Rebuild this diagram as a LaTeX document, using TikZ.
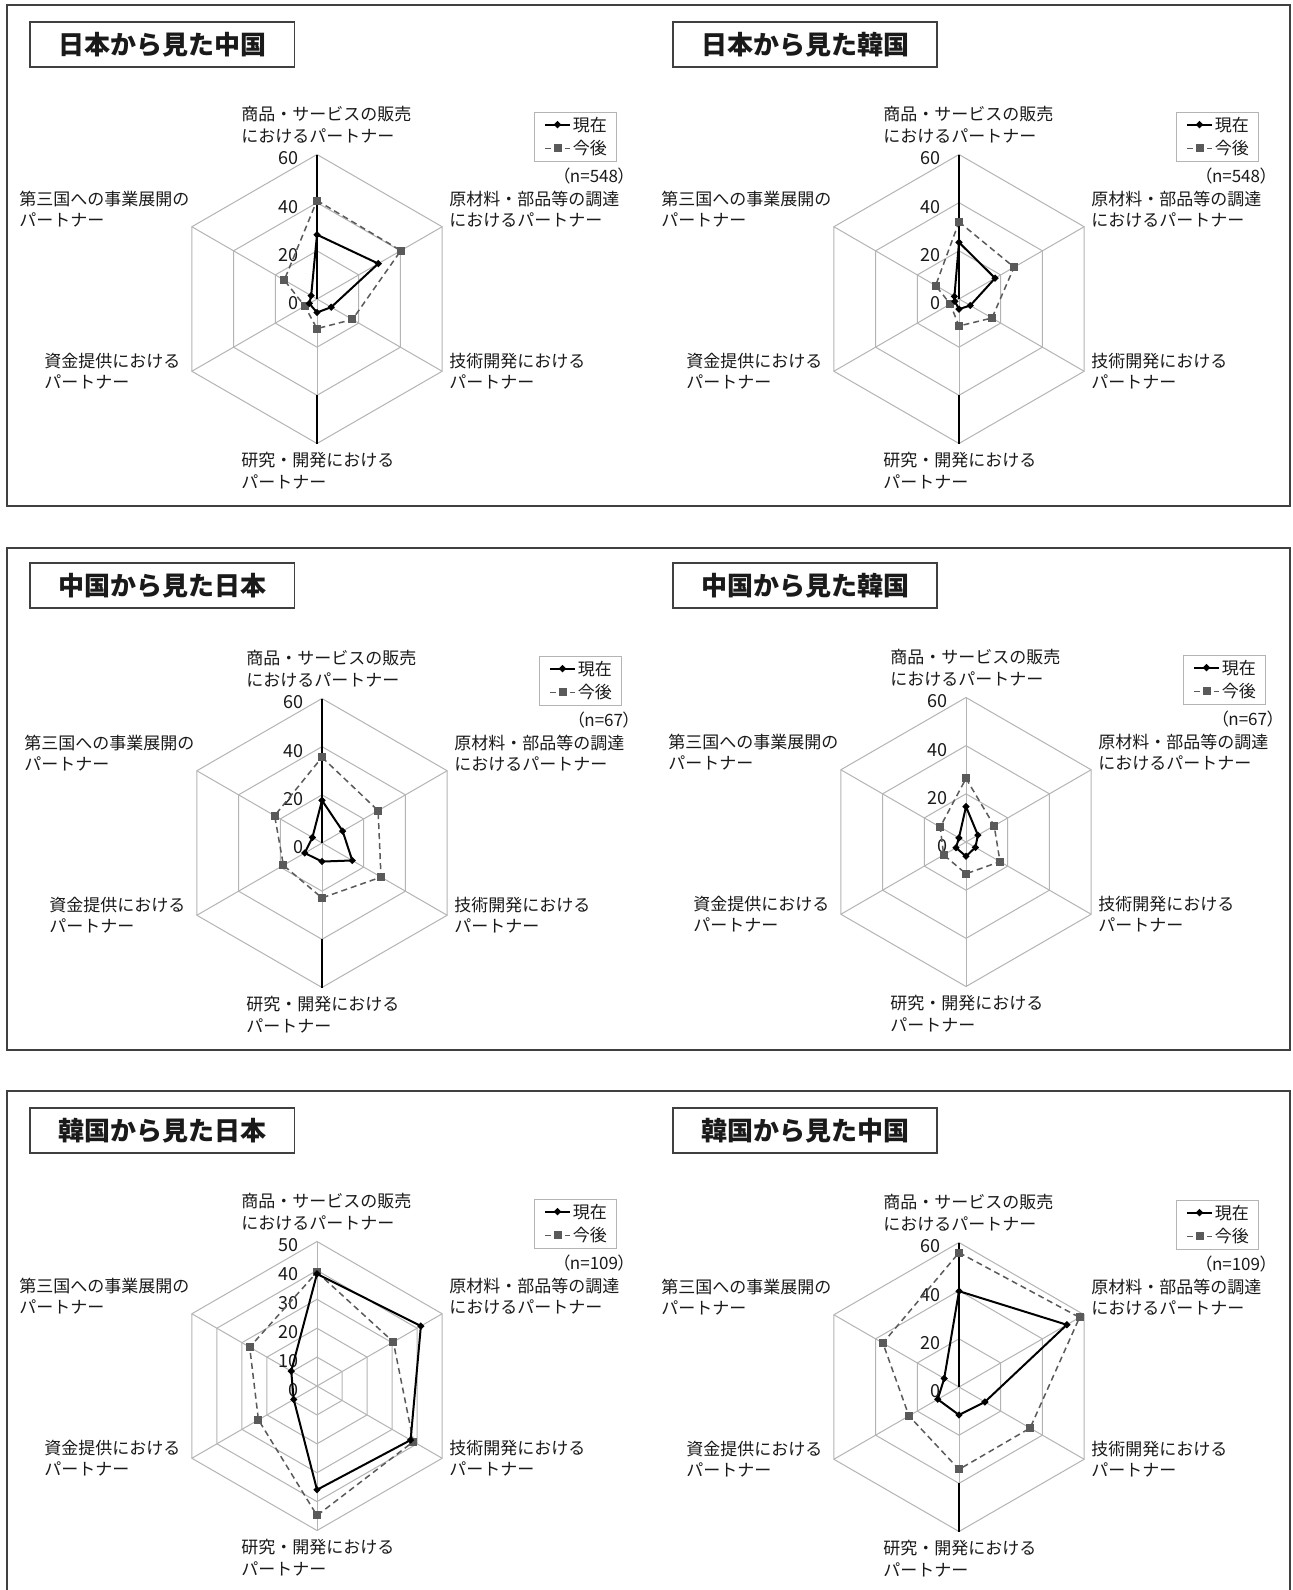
\documentclass[tikz,border=0pt]{standalone}
\usepackage{fontspec}
\setmainfont{Noto Sans CJK JP}
\newfontfamily\jpprop[RawFeature=+palt]{Noto Sans CJK JP}
\usetikzlibrary{calc}
\definecolor{gridgray}{HTML}{B4B4B4}
\definecolor{futgray}{HTML}{5A5A5A}
\definecolor{framegray}{HTML}{404040}
\definecolor{textblack}{HTML}{1A1A1A}
\tikzset{
  gridline/.style={draw=gridgray, line width=0.5pt},
  axisline/.style={draw=black, line width=0.6pt},
  curline/.style={draw=black, line width=1pt, line join=round},
  futline/.style={draw=futgray, line width=0.75pt, dash pattern=on 3pt off 2pt},
  curmark/.style={fill=black, draw=none, rectangle, rotate=45, minimum size=2.6pt, inner sep=0pt},
  futmark/.style={fill=futgray, draw=none, rectangle, minimum size=4pt, inner sep=0pt},
  lab/.style={anchor=base west, inner sep=0pt, text=textblack, font=\fontsize{8.5pt}{10pt}\selectfont},
  ticklab/.style={anchor=east, inner sep=0pt, text=textblack, font=\fontsize{9pt}{10pt}\selectfont},
  legbox/.style={draw=gridgray, line width=0.5pt},
  panelframe/.style={draw=framegray, line width=0.8pt},
  titleframe/.style={draw=framegray, line width=0.75pt},
  titletext/.style={inner sep=0pt, text=textblack, font=\fontsize{13pt}{15pt}\selectfont\bfseries}
}
\newcommand{\radarchart}[9]{%
\begin{scope}[shift={(#2,#3)}]
  \foreach \k in {1,...,#5}{
    \pgfmathsetmacro\rr{144.5*\k/#5}
    \draw[gridline] (0,-\rr) \foreach \ang in {30,-30,-90,-150,150}{ -- ({\rr*cos(\ang)},{-\rr*sin(\ang)}) } -- cycle;
  }
  \foreach \ang in {90,30,-30,-90,-150,150}
    \draw[gridline] (0,0) -- ({144.5*cos(\ang)},{-144.5*sin(\ang)});
  \ifnum#9=1
    \draw[axisline] (0,0) -- (0,-144.5);
    \draw[axisline] (0,96.3) -- (0,144.5);
  \fi
  \foreach \k in {0,...,#5}{
    \pgfmathtruncatemacro\val{#4*\k/#5}
    \pgfmathsetmacro\yy{-144.5*\k/#5+4}
    \node[ticklab] (#1t\k) at (-18,\yy) {\val};
  }
  \foreach \v [count=\i] in {#6}{
    \pgfmathsetmacro\ang{150-60*\i}
    \pgfmathsetmacro\rr{144.5*\v/#4}
    \coordinate (#1c\i) at ({\rr*cos(\ang)},{-\rr*sin(\ang)});
  }
  \foreach \v [count=\i] in {#7}{
    \pgfmathsetmacro\ang{150-60*\i}
    \pgfmathsetmacro\rr{144.5*\v/#4}
    \coordinate (#1f\i) at ({\rr*cos(\ang)},{-\rr*sin(\ang)});
  }
  \draw[futline] (#1f1) -- (#1f2) -- (#1f3) -- (#1f4) -- (#1f5) -- (#1f6) -- cycle;
  \foreach \i in {1,...,6} \node[futmark] (#1fm\i) at (#1f\i) {};
  \draw[curline] (#1c1) -- (#1c2) -- (#1c3) -- (#1c4) -- (#1c5) -- (#1c6) -- cycle;
  \foreach \i in {1,...,6} \node[curmark] (#1cm\i) at (#1c\i) {};
  % axis labels
  \node[lab] (#1l1a) at (-76,-178.5) {商品・サービスの販売};
  \node[lab] (#1l1b) at (-76,-156.5) {におけるパートナー};
  \node[lab] (#1l2a) at (132,-93.5) {原材料・部品等の調達};
  \node[lab] (#1l2b) at (132,-72.5) {におけるパートナー};
  \node[lab] (#1l3a) at (132,68.5) {技術開発における};
  \node[lab] (#1l3b) at (132,89.5) {パートナー};
  \node[lab] (#1l4a) at (-76,167.5) {研究・開発における};
  \node[lab] (#1l4b) at (-76,189.5) {パートナー};
  \node[lab] (#1l5a) at (-273,68.5) {資金提供における};
  \node[lab] (#1l5b) at (-273,89.5) {パートナー};
  \node[lab] (#1l6a) at (-298,-93.5) {第三国への事業展開の};
  \node[lab] (#1l6b) at (-298,-72.5) {パートナー};
  % legend
  \draw[legbox] (217,-187) rectangle (299,-137.5);
  \coordinate (#1la) at (228,-174.4);
  \coordinate (#1lb) at (253,-174.4);
  \coordinate (#1lc) at (228,-150.6);
  \coordinate (#1ld) at (253,-150.6);
  \draw[curline] (#1la) -- (#1lb);
  \node[curmark] (#1lm1) at ($(#1la)!0.5!(#1lb)$) {};
  \draw[futline] (#1lc) -- (#1ld);
  \node[futmark] (#1lm2) at ($(#1lc)!0.5!(#1ld)$) {};
  \node[lab] (#1lt1) at (255.5,-168) {現在};
  \node[lab] (#1lt2) at (255.5,-144.1) {今後};
  \node[lab, anchor=base east, font=\jpprop\fontsize{8.5pt}{10pt}\selectfont] (#1n) at (310,-117) {#8};
\end{scope}}
\begin{document}
\begin{tikzpicture}[x=0.5pt, y=-0.5pt]
\useasboundingbox (0,0) rectangle (1292,1590);
\fill[white] (0,0) rectangle (1292,1590);
% panels
\draw[panelframe] (7,5) rectangle (1290,506);
\draw[panelframe] (7,548) rectangle (1290,1050);
\draw[panelframe] (7,1590) -- (7,1091) -- (1290,1091) -- (1290,1590);
% title boxes
\draw[titleframe] (30,22) rectangle (294.5,67);
\node[titletext] (T1) at (162.25,44.5) {日本から見た中国};
\draw[titleframe] (673,22) rectangle (937,67);
\node[titletext] (T2) at (805,44.5) {日本から見た韓国};
\draw[titleframe] (30,563) rectangle (294.5,608);
\node[titletext] (T3) at (162.25,585.5) {中国から見た日本};
\draw[titleframe] (673,563) rectangle (937,608);
\node[titletext] (T4) at (805,585.5) {中国から見た韓国};
\draw[titleframe] (30,1108) rectangle (294.5,1153);
\node[titletext] (T5) at (162.25,1130.5) {韓国から見た日本};
\draw[titleframe] (673,1108) rectangle (937,1153);
\node[titletext] (T6) at (805,1130.5) {韓国から見た中国};
% charts
\radarchart{A}{317}{299}{60}{3}{26.7,29.4,6.8,5.6,3.7,2.8}{40.9,40.2,17,12.3,5.9,15.7}{（n=548）}{1}
\radarchart{B}{959}{299}{60}{3}{23.5,17.3,5.4,4.2,2,2.2}{32,26.4,15.8,11.2,4.2,11.2}{（n=548）}{1}
\radarchart{C}{322}{843}{60}{3}{17.7,9.9,14.5,7.7,8.3,4.6}{35.6,26.9,28.3,22.8,18.5,22.7}{（n=67）}{1}
\radarchart{D}{966}{842}{60}{3}{14.7,5.7,4.5,5.9,4.8,3.4}{26.4,13.5,16.3,13.2,10.7,12.4}{（n=67）}{0}
\radarchart{E}{317}{1386}{50}{5}{38.8,41.5,37.4,35.9,9.3,10.3}{39.4,30.5,38.5,44.8,23.4,26.9}{（n=109）}{0}
\radarchart{F}{959}{1387}{60}{3}{39.8,51.7,12.4,11.6,10.2,7.1}{55.8,57.8,34.1,34.2,24,36.5}{（n=109）}{1}
\end{tikzpicture}
\end{document}
